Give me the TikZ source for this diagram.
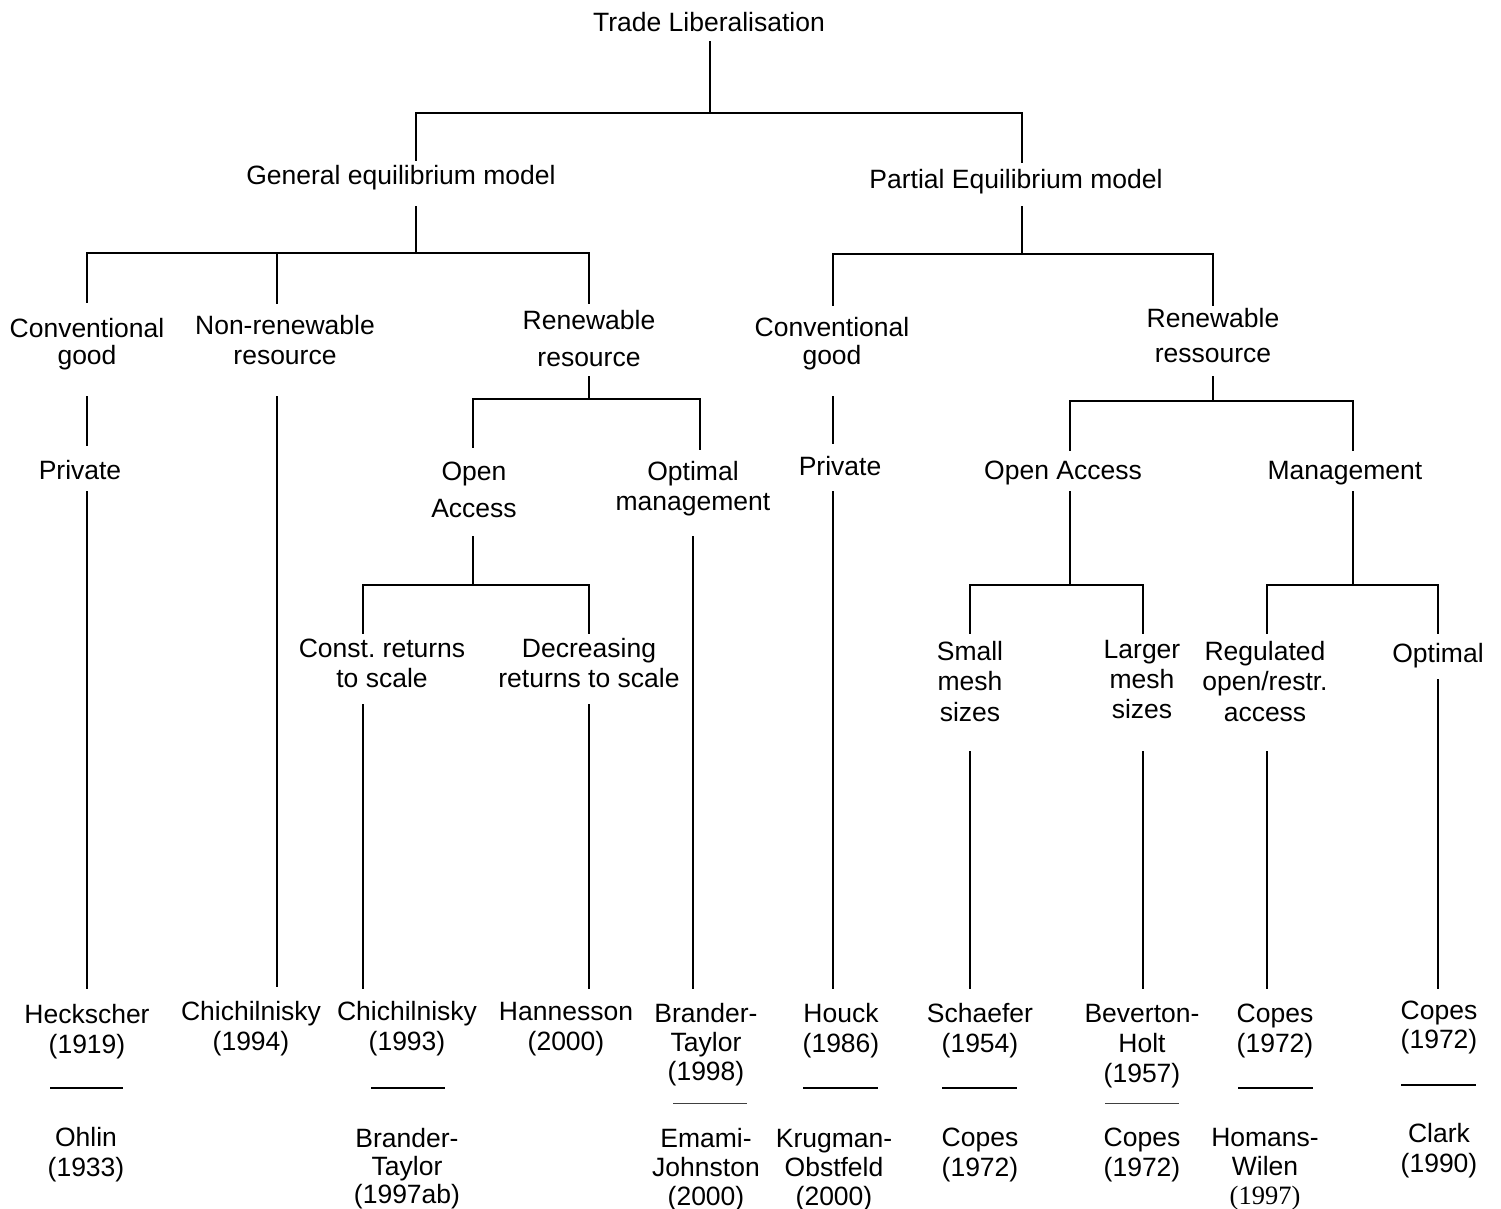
\documentclass[tikz,border=0pt]{standalone}
\usepackage{fontspec}
\setmainfont{Liberation Sans}
\newfontfamily\tnr{Liberation Serif}
\frenchspacing
\begin{document}
\begin{tikzpicture}[x=0.5pt,y=-0.5pt,
  lbl/.style={inner sep=0pt, outer sep=0pt, anchor=base, align=center, font=\fontsize{13.25}{15}\selectfont},
  sk/.style={font=\fontsize{13.25}{#1pt}\selectfont},
  hd/.style 2 args={text height=#1pt, text depth=#2pt},
  link/.style={line width=0.9pt, line cap=rect},
  septhick/.style={line width=1pt},
  septhin/.style={line width=0.5pt, black!75}]
\useasboundingbox (0,0) rectangle (1501,1209);
% ---- text nodes (anchor = baseline of the last line)
\node[lbl, hd={10}{5}] (root) at (709,32) {Trade Liberalisation};
\node[lbl, hd={12.5}{11}] (ge) at (401,185) {General equilibrium model};
\node[lbl, hd={13.5}{9}] (pe) at (1016,189) {Partial Equilibrium model};
\node[lbl, sk=13.5, hd={31.5}{16}] (gcg) at (87,365) {Conventional\\good};
\node[lbl, sk=15, hd={31}{16}] (gnr) at (285,365) {Non-renewable\\resource};
\node[lbl, sk=18.5, hd={32}{5}] (grr) at (589,367) {Renewable\\resource};
\node[lbl, hd={17.5}{6}] (gpriv) at (80,480) {Private};
\node[lbl, sk=18.5, hd={35}{10}] (goa) at (474,517) {Open\\Access};
\node[lbl, sk=15, hd={30.5}{13.5}] (gom) at (693,510) {Optimal\\management};
\node[lbl, sk=15, hd={27}{9}] (gcr) at (382,687) {Const.\ returns\\to scale};
\node[lbl, sk=15, hd={27}{9}] (gdr) at (589,687) {Decreasing\\returns to scale};
\node[lbl, sk=14, hd={30}{16}] (pcg) at (832,365) {Conventional\\good};
\node[lbl, sk=17.5, hd={29}{7}] (prr) at (1213,363) {Renewable\\ressource};
\node[lbl, hd={16.5}{8}] (ppriv) at (840,476) {Private};
\node[lbl, hd={15}{6}] (poa) at (1063,480) {Open Access};
\node[lbl, hd={15}{6}] (pman) at (1345,480) {Management};
\node[lbl, sk=15.25, hd={44}{15.5}] (psm) at (970,721) {Small\\mesh\\sizes};
\node[lbl, sk=15, hd={42.5}{17}] (plm) at (1142,718) {Larger\\mesh\\sizes};
\node[lbl, sk=15.25, hd={44}{15.5}] (preg) at (1265,721) {Regulated\\open/restr.\\access};
\node[lbl, hd={14.5}{9}] (popt) at (1438,662) {Optimal};
% ---- leaves, upper
\node[lbl, sk=15, hd={32.5}{5}] (l1) at (87,1053) {Heckscher\\(1919)};
\node[lbl, sk=15, hd={32}{5}] (l2) at (251,1050) {Chichilnisky\\(1994)};
\node[lbl, sk=15, hd={31}{5}] (l3) at (407,1050) {Chichilnisky\\(1993)};
\node[lbl, sk=15, hd={31}{5}] (l4) at (566,1050) {Hannesson\\(2000)};
\node[lbl, sk=14.5, hd={46}{5}] (l5) at (706,1080) {Brander-\\Taylor\\(1998)};
\node[lbl, sk=15, hd={32}{5}] (l6) at (841,1052) {Houck\\(1986)};
\node[lbl, sk=15, hd={32}{5}] (l7) at (980,1052) {Schaefer\\(1954)};
\node[lbl, sk=15, hd={47}{5}] (l8) at (1142,1082) {Beverton-\\Holt\\(1957)};
\node[lbl, sk=15, hd={32}{5}] (l9) at (1275,1052) {Copes\\(1972)};
\node[lbl, sk=14.5, hd={30}{5}] (l10) at (1439,1048) {Copes\\(1972)};
% ---- leaves, lower
\node[lbl, sk=15] (m1) at (86,1176) {Ohlin\\(1933)};
\node[lbl, sk=14] (m3) at (407,1203) {Brander-\\Taylor\\(1997ab)};
\node[lbl, sk=14.5] (m5) at (706,1205) {Emami-\\Johnston\\(2000)};
\node[lbl, sk=14.5] (m6) at (834,1205) {Krugman-\\Obstfeld\\(2000)};
\node[lbl, sk=15] (m7) at (980,1176) {Copes\\(1972)};
\node[lbl, sk=15] (m8) at (1142,1176) {Copes\\(1972)};
\node[lbl, sk=14.5] (m9) at (1265,1204) {Homans-\\Wilen\\{\tnr (1997)}};
\node[lbl, sk=15] (m10) at (1439,1172) {Clark\\(1990)};
% ---- junctions
\coordinate (b0) at (710,113);
\coordinate (b0l) at (416,113);
\coordinate (b0r) at (1022,113);
\coordinate (b1) at (416,253);
\coordinate (b1a) at (87,253);
\coordinate (b1b) at (277,253);
\coordinate (b1c) at (589,253);
\coordinate (b2) at (589,399);
\coordinate (b2a) at (473,399);
\coordinate (b2b) at (700,399);
\coordinate (b3) at (473,585);
\coordinate (b3a) at (363,585);
\coordinate (b3b) at (589,585);
\coordinate (b4) at (1022,254);
\coordinate (b4a) at (833,254);
\coordinate (b4b) at (1213,254);
\coordinate (b5) at (1213,401);
\coordinate (b5a) at (1070,401);
\coordinate (b5b) at (1353,401);
\coordinate (b6) at (1070,585);
\coordinate (b6a) at (970,585);
\coordinate (b6b) at (1143,585);
\coordinate (b7) at (1353,585);
\coordinate (b7a) at (1267,585);
\coordinate (b7b) at (1438,585);
% ---- connectors
\draw[link] (root.south -| b0) -- (b0);
\draw[link] (ge.north -| b0l) -- (b0l) -- (b0r) -- (pe.north -| b0r);
\draw[link] (ge.south -| b1) -- (b1);
\draw[link] (gcg.north -| b1a) -- (b1a) -- (b1c) -- (grr.north -| b1c);
\draw[link] (b1b) -- (gnr.north -| b1b);
\draw[link] (gcg.south -| b1a) -- (gpriv.north -| b1a);
\draw[link] (gpriv.south -| b1a) -- (l1.north -| b1a);
\draw[link] (gnr.south -| b1b) -- (l2.north -| b1b);
\draw[link] (grr.south -| b2) -- (b2);
\draw[link] (goa.north -| b2a) -- (b2a) -- (b2b) -- (gom.north -| b2b);
\draw[link] (goa.south -| b3) -- (b3);
\draw[link] (gcr.north -| b3a) -- (b3a) -- (b3b) -- (gdr.north -| b3b);
\draw[link] (gcr.south -| b3a) -- (l3.north -| b3a);
\draw[link] (gdr.south -| b3b) -- (l4.north -| b3b);
\draw[link] (gom.south) -- (l5.north -| gom.south);
\draw[link] (pe.south -| b4) -- (b4);
\draw[link] (pcg.north -| b4a) -- (b4a) -- (b4b) -- (prr.north -| b4b);
\draw[link] (pcg.south -| b4a) -- (ppriv.north -| b4a);
\draw[link] (ppriv.south -| b4a) -- (l6.north -| b4a);
\draw[link] (prr.south -| b5) -- (b5);
\draw[link] (poa.north -| b5a) -- (b5a) -- (b5b) -- (pman.north -| b5b);
\draw[link] (poa.south -| b6) -- (b6);
\draw[link] (psm.north -| b6a) -- (b6a) -- (b6b) -- (plm.north -| b6b);
\draw[link] (pman.south -| b7) -- (b7);
\draw[link] (preg.north -| b7a) -- (b7a) -- (b7b) -- (popt.north -| b7b);
\draw[link] (psm.south -| b6a) -- (l7.north -| b6a);
\draw[link] (plm.south -| b6b) -- (l8.north -| b6b);
\draw[link] (preg.south -| b7a) -- (l9.north -| b7a);
\draw[link] (popt.south -| b7b) -- (l10.north -| b7b);
% ---- separators between references
\draw[septhick] (50,1088) -- (123,1088);
\draw[septhick] (371,1088) -- (445,1088);
\draw[septhick] (803,1088) -- (878,1088);
\draw[septhick] (942,1088) -- (1017,1088);
\draw[septhick] (1238,1088) -- (1313,1088);
\draw[septhick] (1401,1085) -- (1476,1085);
\draw[septhin] (673,1103) -- (747,1103);
\draw[septhin] (1105,1103) -- (1179,1103);
\end{tikzpicture}
\end{document}
